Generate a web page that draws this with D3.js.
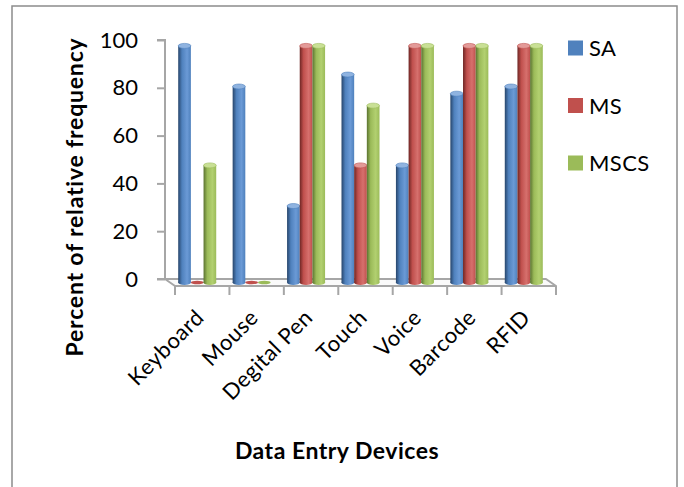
<!DOCTYPE html>
<html>
<head>
<meta charset="utf-8">
<script src="https://cdn.jsdelivr.net/npm/d3@7"></script>
<style>
  html, body { margin: 0; padding: 0; background: #fff; }
  svg { display: block; font-family: Lato, "Open Sans", "DejaVu Sans", sans-serif; }
</style>
</head>
<body>
<svg id="chart" width="684" height="487"></svg>
<script>
// Data
const categories = ["Keyboard", "Mouse", "Degital Pen", "Touch", "Voice", "Barcode", "RFID"];
const seriesNames = ["SA", "MS", "MSCS"];
const saValues = [99, 82, 32, 87, 49, 79, 82];
const msValues = [0, 0, 99, 49, 99, 99, 99];
const mscsValues = [49, 0, 99, 74, 99, 99, 99];
const yTicks = [0, 20, 40, 60, 80, 100];

const seriesValues = [saValues, msValues, mscsValues];
const colors = {
  SA:   { base: "#4F81BD", dark: "#27456b", light: "#6b9ad6", top: "#8fb3e0" },
  MS:   { base: "#C0504D", dark: "#6e2624", light: "#d6706d", top: "#e39a98" },
  MSCS: { base: "#9BBB59", dark: "#5a7230", light: "#b2d070", top: "#c9e095" }
};

const svg = d3.select("#chart");

// Outer frame
svg.append("rect")
  .attr("x", 12).attr("y", 6).attr("width", 665).attr("height", 500)
  .attr("fill", "none").attr("stroke", "#8c8c8c").attr("stroke-width", 1.5);

// Geometry of the 3D plot: back wall and floor depth offset
const depthX = 10, depthY = 7;
const frontLeft = 175, frontRight = 556;
const y = d3.scaleLinear().domain([0, 100]).range([279, 40]);
const x = d3.scaleBand().domain(categories).range([frontLeft, frontRight]);
const inner = d3.scaleBand().domain(seriesNames).range([-19, 19]);

// Gradients for cylinder bodies
const defs = svg.append("defs");
seriesNames.forEach(s => {
  const c = colors[s];
  const g = defs.append("linearGradient").attr("id", "grad-" + s)
    .attr("x1", "0%").attr("x2", "100%").attr("y1", "0%").attr("y2", "0%");
  g.append("stop").attr("offset", "0%").attr("stop-color", c.dark);
  g.append("stop").attr("offset", "30%").attr("stop-color", c.base);
  g.append("stop").attr("offset", "70%").attr("stop-color", c.light);
  g.append("stop").attr("offset", "100%").attr("stop-color", c.base);
});

// Value axis (back wall edge)
const axisG = svg.append("g").attr("transform", "translate(165,0)");
axisG.call(d3.axisLeft(y).tickValues(yTicks).tickSize(8).tickPadding(19).tickFormat(d3.format("d")));
axisG.select(".domain").attr("stroke", "#a6a6a6").attr("stroke-width", 2)
  .attr("d", "M-8," + y(100) + "H0V" + y(0) + "H-8");
axisG.selectAll(".tick line").attr("stroke", "#a6a6a6").attr("stroke-width", 2);
axisG.selectAll(".tick text").attr("fill", "#000").attr("font-size", 22)
  .attr("font-family", "Lato, 'Open Sans', sans-serif");

// Floor
const backLeft = frontLeft - depthX, backRight = frontRight - depthX;
const yBack = y(0), yFront = y(0) + depthY;
svg.append("path")
  .attr("d", `M${backLeft},${yBack}L${backRight},${yBack}L${frontRight},${yFront}L${frontLeft},${yFront}Z`)
  .attr("fill", "#fafafa").attr("stroke", "#a6a6a6").attr("stroke-width", 2)
  .attr("stroke-linejoin", "round");

// Category tick marks along the front edge
const boundaries = categories.map(c => x(c)).concat([frontRight]);
svg.selectAll(".ctick").data(boundaries).enter().append("line")
  .attr("x1", d => d).attr("x2", d => d)
  .attr("y1", yFront).attr("y2", yFront + 9)
  .attr("stroke", "#a6a6a6").attr("stroke-width", 2);

// Cylinders (drawn at mid depth of the floor)
const midX = -depthX / 2, midY = depthY / 2;
const bw = inner.bandwidth();
const ry = 2.5;
const bars = [];
categories.forEach((cat, i) => {
  seriesNames.forEach((s, j) => {
    bars.push({ cat, s, v: seriesValues[j][i] });
  });
});

const barG = svg.append("g");
bars.forEach(b => {
  const cx = x(b.cat) + x.bandwidth() / 2 + midX + inner(b.s) + bw / 2;
  const yBase = y(0) + midY;
  const yTop = y(b.v) + midY;
  const c = colors[b.s];
  const g = barG.append("g");
  if (b.v > 0) {
    g.append("ellipse").attr("cx", cx).attr("cy", yBase).attr("rx", bw / 2).attr("ry", ry)
      .attr("fill", "url(#grad-" + b.s + ")");
    g.append("rect").attr("x", cx - bw / 2).attr("y", yTop).attr("width", bw).attr("height", yBase - yTop)
      .attr("fill", "url(#grad-" + b.s + ")");
    g.append("ellipse").attr("cx", cx).attr("cy", yTop).attr("rx", bw / 2).attr("ry", ry)
      .attr("fill", c.top).attr("stroke", c.base).attr("stroke-width", 0.6);
  } else {
    g.append("ellipse").attr("cx", cx).attr("cy", yBase).attr("rx", bw / 2).attr("ry", ry - 0.8)
      .attr("fill", c.base);
  }
});

// Category labels
svg.selectAll(".clabel").data(categories).enter().append("text")
  .attr("transform", d => `translate(${x(d) + x.bandwidth() / 2 + 3},${yFront + 33}) rotate(-45)`)
  .attr("text-anchor", "end")
  .attr("font-size", 22)
  .attr("letter-spacing", 0.5)
  .attr("fill", "#000")
  .text(d => d);

// Axis titles
svg.append("text")
  .attr("transform", "translate(83,197) rotate(-90)")
  .attr("text-anchor", "middle")
  .attr("font-size", 23).attr("font-weight", "bold")
  .attr("letter-spacing", 0.8)
  .text("Percent of relative frequency");

svg.append("text")
  .attr("x", 337).attr("y", 459)
  .attr("text-anchor", "middle")
  .attr("font-size", 23).attr("font-weight", "bold")
  .attr("letter-spacing", 0.5)
  .text("Data Entry Devices");

// Legend
const legend = svg.append("g");
seriesNames.forEach((s, i) => {
  const ly = 48 + i * 57.5;
  legend.append("rect").attr("x", 568).attr("y", ly - 7.5).attr("width", 15).attr("height", 15)
    .attr("fill", colors[s].base);
  legend.append("text").attr("x", 589).attr("y", ly + 8)
    .attr("font-size", 22).attr("letter-spacing", 0.4).attr("fill", "#000").text(s);
});
</script>
</body>
</html>
